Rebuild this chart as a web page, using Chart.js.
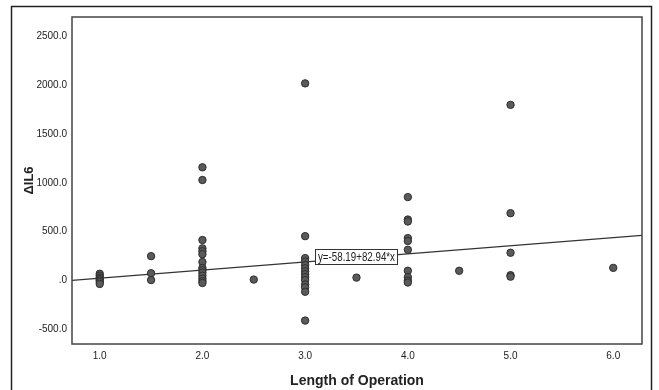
<!DOCTYPE html>
<html>
<head>
<meta charset="utf-8">
<script src="https://cdn.jsdelivr.net/npm/chart.js@4.4.1/dist/chart.umd.min.js"></script>
<style>
  html, body { margin: 0; padding: 0; background: #fff; }
  #wrap { width: 659px; height: 390px; }
</style>
</head>
<body>
<div id="wrap"><canvas id="scatter" width="659" height="390"></canvas></div>
<script>
// Length of operation (x) and change in IL6 (y)
var opLength = [
    1.0, 1.0, 1.0, 1.0, 1.0, 1.0, 1.0,
    1.5, 1.5, 1.5,
    2.0, 2.0, 2.0, 2.0, 2.0, 2.0, 2.0, 2.0, 2.0, 2.0, 2.0, 2.0, 2.0, 2.0,
    2.5,
    3.0, 3.0, 3.0, 3.0, 3.0, 3.0, 3.0, 3.0, 3.0, 3.0, 3.0, 3.0, 3.0, 3.0,
    3.5,
    4.0, 4.0, 4.0, 4.0, 4.0, 4.0, 4.0, 4.0, 4.0, 4.0,
    4.5,
    5.0, 5.0, 5.0, 5.0, 5.0,
    6.0
];
var deltaIL6 = [
    70, 50, 30, 15, 0, -15, -35,
    250, 75, 5,
    1160, 1030, 415, 330, 300, 270, 190, 130, 105, 80, 50, 20, -5, -25,
    10,
    2020, 455, 230, 195, 160, 125, 95, 65, 35, 5, -40, -70, -115, -410,
    30,
    855, 625, 605, 435, 405, 315, 100, 35, 0, -20,
    100,
    1800, 690, 285, 55, 40,
    130
];
// fitted line end points (at the axis ends)
var fitX = [0.73, 6.28];
var fitY = [2, 463];
var fitLabel = 'y=-58.19+82.94*x';
var xTicks = [1, 2, 3, 4, 5, 6];
var yTicks = [-500, 0, 500, 1000, 1500, 2000, 2500];

var sans = '"Liberation Sans", Arial, sans-serif';

var points = [];
for (var i = 0; i < opLength.length; i++) {
    points.push({ x: opLength[i], y: deltaIL6[i] });
}
var fitLine = [];
for (var j = 0; j < fitX.length; j++) {
    fitLine.push({ x: fitX[j], y: fitY[j] });
}

// frame round the whole chart, border round plot, equation box
var framePlugin = {
    id: 'frames',
    beforeDraw: function (chart) {
        var c = chart.ctx;
        c.save();
        c.fillStyle = '#fff';
        c.fillRect(0, 0, chart.width, chart.height);
        c.strokeStyle = '#222';
        c.lineWidth = 1.5;
        c.strokeRect(11.5, 6.5, 640, 400);
        c.restore();
    },
    afterDraw: function (chart) {
        var c = chart.ctx;
        var a = chart.chartArea;
        c.save();
        c.strokeStyle = '#444';
        c.lineWidth = 1.5;
        c.strokeRect(a.left, a.top, a.right - a.left, a.bottom - a.top);

        // equation label, centred on the line at x = 3.5 (text a bit condensed)
        var px = chart.scales.x.getPixelForValue(3.5);
        var py = chart.scales.y.getPixelForValue(245);
        var squeeze = 0.78;
        c.font = '12.5px ' + sans;
        var w = Math.round(c.measureText(fitLabel).width * squeeze + 5);
        var h = 15;
        var bx = Math.round(px - w / 2) + 0.5;
        var by = Math.round(py - h / 2) + 0.5;
        c.fillStyle = '#fff';
        c.fillRect(bx, by, w, h);
        c.strokeStyle = '#333';
        c.lineWidth = 1;
        c.strokeRect(bx, by, w, h);
        c.translate(px, py + 1);
        c.scale(squeeze, 1);
        c.fillStyle = '#222';
        c.textAlign = 'center';
        c.textBaseline = 'middle';
        c.fillText(fitLabel, 0, 0);
        c.restore();
    }
};

var ctx = document.getElementById('scatter').getContext('2d');
var myChart = new Chart(ctx, {
    type: 'scatter',
    data: {
        datasets: [{
            type: 'line',
            label: 'fit',
            data: fitLine,
            borderColor: '#333',
            borderWidth: 1.2,
            pointRadius: 0,
            fill: false,
            order: 2
        }, {
            label: 'ΔIL6',
            data: points,
            backgroundColor: '#5a5a5a',
            borderColor: '#2e2e2e',
            borderWidth: 1,
            pointRadius: 3.7,
            order: 1
        }]
    },
    options: {
        responsive: false,
        animation: false,
        layout: { padding: { top: 17, right: 17, left: 0, bottom: 0 } },
        plugins: {
            legend: { display: false },
            tooltip: { enabled: false }
        },
        scales: {
            x: {
                type: 'linear',
                min: 0.73,
                max: 6.28,
                afterFit: function (s) { s.height = 46; },
                afterBuildTicks: function (s) {
                    s.ticks = xTicks.map(function (v) { return { value: v }; });
                },
                grid: { display: false, drawTicks: false },
                border: { display: false },
                ticks: {
                    padding: 6,
                    color: '#222',
                    font: { family: sans, size: 10 },
                    callback: function (v) { return v.toFixed(1); }
                },
                title: {
                    display: true,
                    text: 'Length of Operation',
                    color: '#222',
                    padding: { top: 6, bottom: 0 },
                    font: { family: sans, size: 14, weight: 'bold' }
                }
            },
            y: {
                type: 'linear',
                min: -650,
                max: 2700,
                afterFit: function (s) { s.width = 72; },
                afterBuildTicks: function (s) {
                    s.ticks = yTicks.map(function (v) { return { value: v }; });
                },
                grid: { display: false, drawTicks: false },
                border: { display: false },
                ticks: {
                    padding: 5,
                    color: '#222',
                    font: { family: sans, size: 10 },
                    callback: function (v) { return v === 0 ? '.0' : v.toFixed(1); }
                },
                title: {
                    display: true,
                    text: 'ΔIL6',
                    color: '#222',
                    padding: { top: 22, bottom: 0 },
                    font: { family: sans, size: 13, weight: 'bold' }
                }
            }
        }
    },
    plugins: [framePlugin]
});
</script>
</body>
</html>
